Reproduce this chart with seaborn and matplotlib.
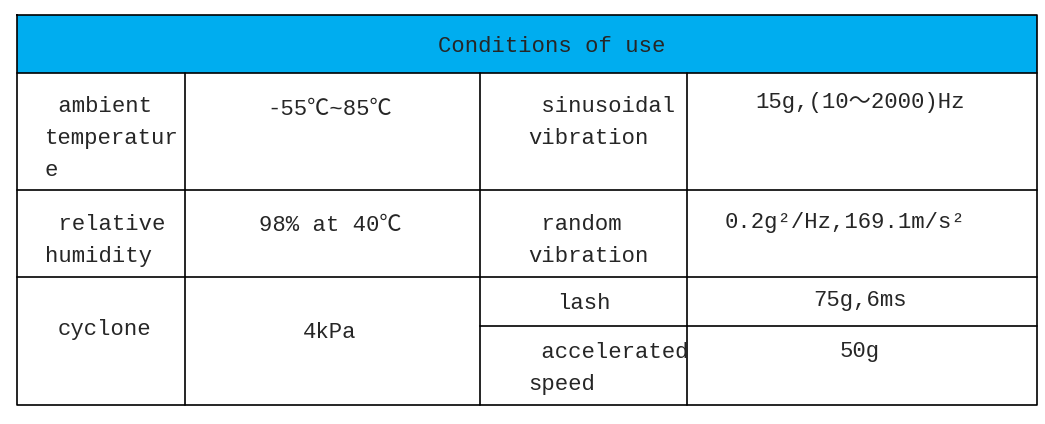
import matplotlib
matplotlib.use('Agg')
import matplotlib.pyplot as plt
import seaborn as sns

sns.set_theme(style="white")
plt.rcParams['font.family'] = ['Liberation Mono', 'Noto Sans CJK SC', 'DejaVu Sans']

title = "Conditions of use"
labels = [" ambient\ntemperatur\ne", " relative\nhumidity", "cyclone",
          " sinusoidal\nvibration", " random\nvibration", "lash", " accelerated\nspeed"]
values = ["-55℃~85℃", "98% at 40℃", "4kPa",
          "15g,(10～2000)Hz", "0.2g²/Hz,169.1m/s²", "75g,6ms", "50g"]

# layout in pixels
label_pos = [(45, 96, 'left'), (45, 214, 'left'), (104, 319, 'center'),
             (528, 96, 'left'), (528, 214, 'left'), (557, 293, 'left'), (528, 342, 'left')]
value_pos = [(330, 99), (330, 215), (330, 322), (860, 92), (845, 212), (860, 290), (860, 341)]

fig = plt.figure(figsize=(10.45, 4.24), dpi=100)
ax = fig.add_axes([0, 0, 1, 1])
ax.set_xlim(0, 1045)
ax.set_ylim(424, 0)
ax.axis('off')

ax.fill_between([17, 1037], 15, 73, color='#00ADEF', linewidth=0)
lw = 1.2
k = 'black'
ax.plot([17, 1037, 1037, 17, 17], [15, 15, 405, 405, 15], color=k, lw=lw)
for y in [73, 190, 277]:
    ax.plot([17, 1037], [y, y], color=k, lw=lw)
ax.plot([480, 1037], [326, 326], color=k, lw=lw)
for x in [185, 480, 687]:
    ax.plot([x, x], [73, 405], color=k, lw=lw)

fs = 16
ax.text(552, 47, title, ha='center', va='center', fontsize=fs)
for t, (x, y, ha) in zip(labels, label_pos):
    ax.text(x, y, t, ha=ha, va='top', fontsize=fs, linespacing=1.7)
for t, (x, y) in zip(values, value_pos):
    ax.text(x, y, t, ha='center', va='top', fontsize=fs)

fig.savefig('out.png', dpi=100)
